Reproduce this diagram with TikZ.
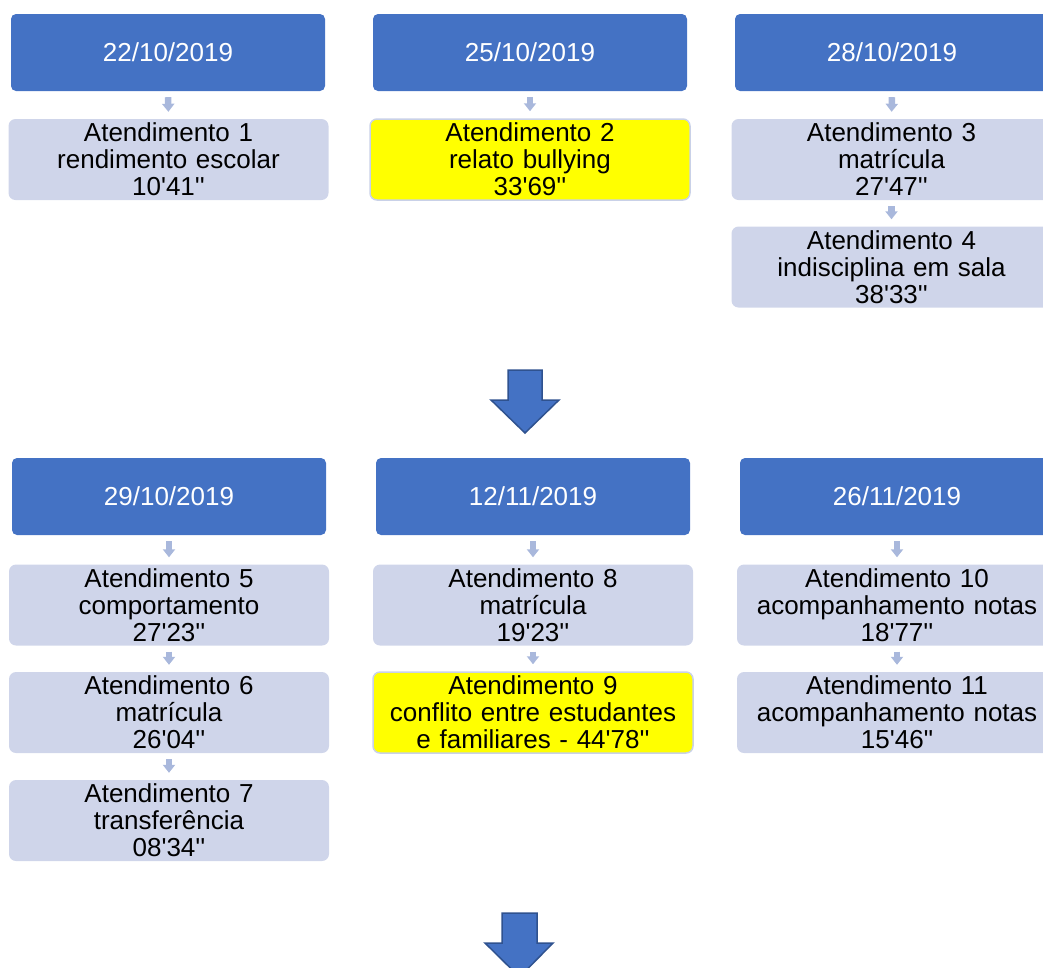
\documentclass[tikz,border=0pt]{standalone}
\usepackage{fontspec}
\newfontfamily\arialf{Liberation Sans}
\usetikzlibrary{arrows.meta}
\definecolor{dblue}{HTML}{4472C4}
\definecolor{darkblue}{HTML}{2F528F}
\definecolor{lgray}{HTML}{CFD5EA}
\definecolor{yborder}{HTML}{C9D1E8}
\definecolor{sarrow}{HTML}{A9B8DC}
\definecolor{hlyellow}{RGB}{255,255,0}
\begin{document}
\begin{tikzpicture}[x=1pt,y=-1pt,
  datebox/.style={fill=dblue, rounded corners=5pt, minimum width=314pt, minimum height=77pt,
    text=white, font=\arialf\fontsize{26}{27}\selectfont, inner sep=0pt},
  subbox/.style={fill=lgray, rounded corners=7pt, minimum width=320pt, minimum height=81pt,
    text width=316pt, align=center, font=\arialf\fontsize{26}{27}\selectfont, inner sep=0pt},
  hlbox/.style={subbox, fill=hlyellow, draw=yborder, line width=1.5pt},
  link/.style={draw=sarrow, line width=6.5pt, -{Triangle[width=12pt,length=8pt]},
    shorten <=6pt, shorten >=7pt},
  bigarrow/.style={fill=dblue, draw=darkblue, line width=1.5pt, line join=miter}]
\useasboundingbox (0,0) rectangle (1043,967);
\clip (0,0) rectangle (1043,967);
% row 1
\node[datebox] (d1) at (168,52.5) {22/10/2019};
\node[datebox] (d2) at (530,52.5) {25/10/2019};
\node[datebox] (d3) at (892,52.5) {28/10/2019};
\node[subbox] (a1) at (168.5,159.5) {Atendimento 1\\rendimento escolar\\10'41''};
\node[hlbox]  (a2) at (530,159.5) {Atendimento 2\\relato bullying\\33'69''};
\node[subbox] (a3) at (891.5,159.5) {Atendimento 3\\matrícula\\27'47''};
\node[subbox] (a4) at (891.5,267) {Atendimento 4\\indisciplina em sala\\38'33''};
\draw[link] (d1.south) -- (a1.north);
\draw[link] (d2.south) -- (a2.north);
\draw[link] (d3.south) -- (a3.north);
\draw[link] (a3.south) -- (a4.north);
% big arrow 1
\draw[bigarrow] (508,370) -- (542,370) -- (542,400) -- (559,400) -- (525,433) -- (491,400) -- (508,400) -- cycle;
% row 2
\node[datebox] (d4) at (169,496.5) {29/10/2019};
\node[datebox] (d5) at (533,496.5) {12/11/2019};
\node[datebox] (d6) at (897,496.5) {26/11/2019};
\node[subbox] (a5) at (169,605) {Atendimento 5\\comportamento\\27'23''};
\node[subbox] (a6) at (169,712.5) {Atendimento 6\\matrícula\\26'04''};
\node[subbox] (a7) at (169,820.5) {Atendimento 7\\transferência\\08'34''};
\node[subbox] (a8) at (533,605) {Atendimento 8\\matrícula\\19'23''};
\node[hlbox]  (a9) at (533,712.5) {Atendimento 9\\conflito entre estudantes\\e familiares - 44'78''};
\node[subbox] (a10) at (897,605) {Atendimento 10\\acompanhamento notas\\18'77''};
\node[subbox] (a11) at (897,712.5) {Atendimento 11\\acompanhamento notas\\15'46"};
\draw[link] (d4.south) -- (a5.north);
\draw[link] (a5.south) -- (a6.north);
\draw[link] (a6.south) -- (a7.north);
\draw[link] (d5.south) -- (a8.north);
\draw[link] (a8.south) -- (a9.north);
\draw[link] (d6.south) -- (a10.north);
\draw[link] (a10.south) -- (a11.north);
% big arrow 2
\draw[bigarrow] (502,913) -- (537,913) -- (537,943) -- (553,943) -- (519.5,977) -- (485,943) -- (502,943) -- cycle;
\end{tikzpicture}
\end{document}
